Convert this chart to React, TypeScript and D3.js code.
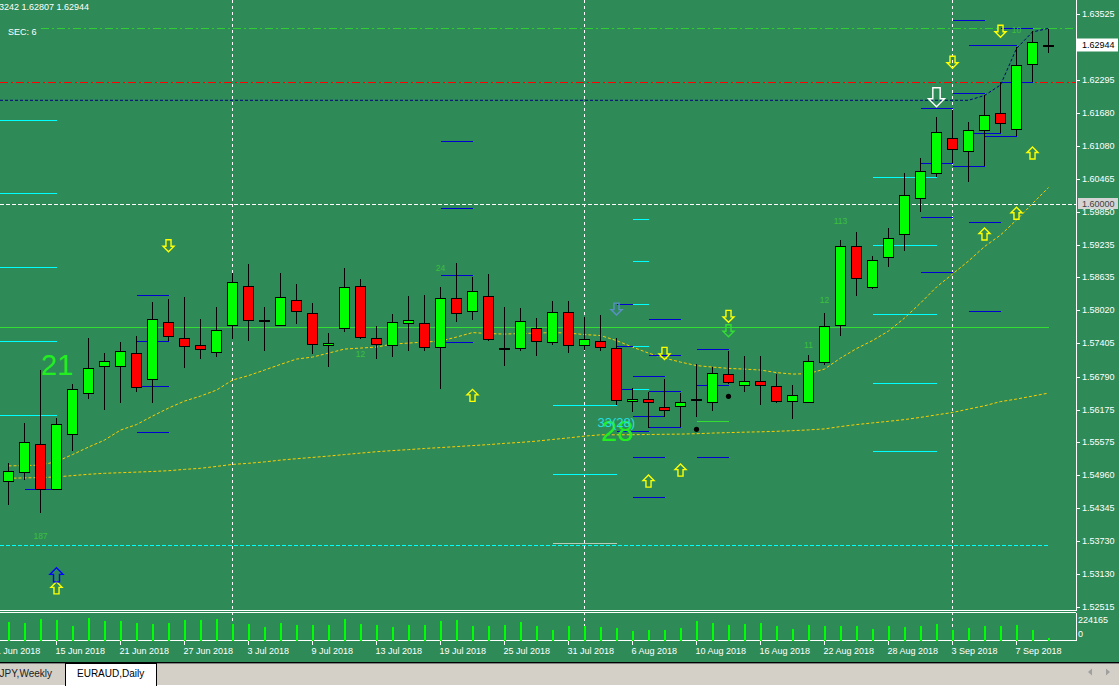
import React from "react";
import * as d3 from "d3";

// ---------- DATA ----------
const dates = [
  "2018-06-12","2018-06-13","2018-06-14","2018-06-15","2018-06-18","2018-06-19","2018-06-20","2018-06-21","2018-06-22",
  "2018-06-25","2018-06-26","2018-06-27","2018-06-28","2018-06-29",
  "2018-07-02","2018-07-03","2018-07-04","2018-07-05","2018-07-06","2018-07-09","2018-07-10","2018-07-11","2018-07-12","2018-07-13",
  "2018-07-16","2018-07-17","2018-07-18","2018-07-19","2018-07-20","2018-07-23","2018-07-24","2018-07-25","2018-07-26","2018-07-27",
  "2018-07-30","2018-07-31",
  "2018-08-01","2018-08-02","2018-08-03","2018-08-06","2018-08-07","2018-08-08","2018-08-09","2018-08-10","2018-08-13","2018-08-14",
  "2018-08-15","2018-08-16","2018-08-17","2018-08-20","2018-08-21","2018-08-22","2018-08-23","2018-08-24","2018-08-27","2018-08-28",
  "2018-08-29","2018-08-30","2018-08-31",
  "2018-09-03","2018-09-04","2018-09-05","2018-09-06","2018-09-07","2018-09-10","2018-09-11",
];

const open = [
  1.54854,1.55021,1.55530,1.54694,1.55716,1.56489,1.56979,1.56990,1.57221,1.56738,
  1.57797,1.57500,1.57370,1.57239,1.57741,1.58466,1.57821,1.57741,1.58206,1.57964,
  1.57370,1.57691,1.58466,1.57500,1.57370,1.57778,1.57778,1.57332,1.58243,1.58001,
  1.58280,1.57295,1.57314,1.57691,1.57425,1.57983,1.57370,1.57444,1.57314,1.56329,
  1.56366,1.56217,1.56236,1.56348,1.56310,1.56831,1.56626,1.56701,1.56608,1.56329,
  1.56310,1.57054,1.57741,1.59220,1.58447,1.59004,1.59432,1.60101,1.60565,1.61216,
  1.60974,1.61364,1.61680,1.61383,1.62590,1.62950,
];
const high = [
  1.55177,1.55920,1.56911,1.56013,1.56650,1.57500,1.57221,1.57431,1.57542,1.58174,
  1.58230,1.58267,1.57858,1.58081,1.58713,1.58880,1.58075,1.58713,1.58508,1.58155,
  1.57598,1.58806,1.58601,1.57722,1.57951,1.58285,1.58304,1.58453,1.58899,1.58638,
  1.58694,1.58081,1.58057,1.57871,1.58193,1.58193,1.57901,1.57932,1.57500,1.56571,
  1.56507,1.56738,1.56478,1.57016,1.56961,1.57258,1.57165,1.57165,1.56831,1.56626,
  1.57184,1.57964,1.59326,1.59469,1.59023,1.59543,1.60565,1.60844,1.61606,1.61741,
  1.61513,1.62014,1.62262,1.62906,1.63204,1.63242,
];
const low = [
  1.54402,1.54867,1.54259,1.54690,1.55406,1.56372,1.56167,1.56303,1.56507,1.56303,
  1.57455,1.56953,1.57115,1.57158,1.57481,1.57455,1.57269,1.57735,1.57771,1.57208,
  1.56972,1.57611,1.57486,1.57120,1.57158,1.57269,1.57269,1.56552,1.57808,1.57845,
  1.57444,1.56990,1.57269,1.57176,1.57381,1.57221,1.57288,1.57269,1.56260,1.56136,
  1.55827,1.56043,1.55851,1.56043,1.56154,1.56645,1.56496,1.56266,1.56305,1.56006,
  1.56305,1.56998,1.57548,1.58291,1.58421,1.58830,1.59127,1.59841,1.60502,1.60751,
  1.60409,1.60701,1.61308,1.61253,1.62256,1.62807,
];
const close = [
  1.55028,1.55567,1.54694,1.55902,1.56552,1.56942,1.57072,1.57258,1.56600,1.57853,
  1.57548,1.57362,1.57295,1.57648,1.58540,1.57834,1.57821,1.58261,1.58001,1.57388,
  1.57407,1.58447,1.57518,1.57388,1.57797,1.57834,1.57332,1.58243,1.57964,1.58373,
  1.57481,1.57295,1.57815,1.57444,1.57983,1.57370,1.57481,1.57332,1.56348,1.56366,
  1.56310,1.56162,1.56310,1.56348,1.56849,1.56682,1.56701,1.56626,1.56329,1.56440,
  1.57072,1.57722,1.59220,1.58614,1.58949,1.59358,1.60156,1.60602,1.61327,1.61011,
  1.61364,1.61643,1.61494,1.62572,1.62999,1.62944,
];
const volume = [
  152000,144000,178500,168000,120000,184000,160000,160000,144000,136000,
  144000,168000,168000,176000,136000,136000,112000,144000,128000,128000,
  128000,176000,136000,128000,112000,128000,128000,160000,168000,120000,
  120000,128000,152000,120000,88000,120000,120000,112000,104000,80000,
  88000,88000,104000,160000,144000,128000,136000,144000,120000,96000,
  128000,120000,120000,120000,96000,120000,112000,120000,136000,88000,
  104000,120000,120000,128000,88000,24000,
];
const volumeMax = 224165;

const maFast = [
  1.55131,1.55136,1.55145,1.55210,1.55341,1.55480,1.55610,1.55796,1.55898,1.56056,
  1.56204,1.56335,1.56427,1.56539,1.56725,1.56808,1.56911,1.57016,1.57115,1.57152,
  1.57226,1.57301,1.57319,1.57338,1.57394,1.57412,1.57431,1.57449,1.57524,1.57607,
  1.57589,1.57579,1.57589,1.57598,1.57607,1.57598,1.57570,1.57552,1.57459,1.57338,
  1.57226,1.57133,1.57059,1.56994,1.56966,1.56942,1.56929,1.56911,1.56864,1.56836,
  1.56845,1.56929,1.57133,1.57310,1.57459,1.57635,1.57877,1.58155,1.58453,1.58694,
  1.58936,1.59205,1.59419,1.59698,1.60004,1.60301,
];
const maSlow = [
  1.54900,1.54908,1.54913,1.54926,1.54950,1.54975,1.54993,1.55004,1.55015,1.55027,
  1.55041,1.55066,1.55086,1.55121,1.55158,1.55179,1.55205,1.55238,1.55264,1.55288,
  1.55313,1.55341,1.55368,1.55394,1.55415,1.55433,1.55454,1.55471,1.55489,1.55508,
  1.55526,1.55549,1.55567,1.55591,1.55621,1.55651,1.55684,1.55708,1.55708,1.55710,
  1.55714,1.55718,1.55721,1.55729,1.55740,1.55749,1.55757,1.55764,1.55773,1.55785,
  1.55799,1.55818,1.55861,1.55898,1.55929,1.55959,1.55991,1.56032,1.56078,1.56123,
  1.56186,1.56247,1.56325,1.56372,1.56427,1.56483,
];

// trailing stop line: flat level then per-candle values
const trailLevel = 1.61922;
const trailIdx = [60, 61, 62, 63, 64, 65];
const trailPrice = [1.61922, 1.62011, 1.62206, 1.62884, 1.63191, 1.63259];

const priceTicks = [
  "1.63525","1.62295","1.61680","1.61080","1.60465","1.59850","1.59235","1.58635","1.58020",
  "1.57405","1.56790","1.56175","1.55575","1.54960","1.54345","1.53730","1.53130","1.52515",
];
const dateTickIdx = [-1, 3, 7, 11, 15, 19, 23, 27, 31, 35, 39, 43, 47, 51, 55, 59, 63];
const dateTickLabels = [
  "11 Jun 2018","15 Jun 2018","21 Jun 2018","27 Jun 2018","3 Jul 2018","9 Jul 2018","13 Jul 2018",
  "19 Jul 2018","25 Jul 2018","31 Jul 2018","6 Aug 2018","10 Aug 2018","16 Aug 2018","22 Aug 2018",
  "28 Aug 2018","3 Sep 2018","7 Sep 2018",
];
const separatorIdx = [14, 36, 59];

// horizontal level lines
const levelPrice = [1.63259, 1.62256, 1.60000, 1.57705, 1.53655];
const levelFrom = [2, -1, -1, -1, -1];
const levelTo = [null, null, null, 65, 65];
const levelKind = ["greenDashDot", "redDashDot", "whiteDash", "greenSolid", "cyanDash"];

// short segments
const segFrom = [
  -1,-1,-1,-1,-1, 1, 8,8,8,8, 27,27,27,27, 34,34,34, 39,39,
  38,38,38, 39,39,39, 40,40,40,40, 39,39,39,39, 38, 43,43,43, 43,
  54,54,54,54,54, 57,57,57,57, 60,60,60, 59,59,59, 62,62, 60, 61,
];
const segTo = [
  3,3,3,3,3, 3.3, 10,10,10,10, 29,29,29,29, 38,38,38, 40,40,
  39,39,39, 40,40,40, 42,42,42,42, 41,41,41,41, 40, 45,45,45, 45,
  58,58,58,58,58, 59,59,59,59, 62,62,62, 61,61,61, 64,64, 63, 63,
];
const segPrice = [
  1.61550,1.60194,1.58819,1.57449,1.56069, 1.54694, 1.58298,1.57444,1.56608,1.55753,
  1.61160,1.59915,1.58670,1.57425, 1.56255,1.54973,1.53696, 1.59711,1.58930,
  1.58131,1.57351,1.56552, 1.58131,1.57351,1.56552, 1.57853,1.57184,1.56515,1.55851,
  1.56794,1.56050,1.55288,1.54545, 1.55772, 1.57295,1.56626,1.55288, 1.55957,
  1.60491,1.59227,1.57945,1.56663,1.55400, 1.61773,1.60751,1.59748,1.58726,
  1.61308,1.59655,1.58001, 1.63408,1.62052,1.60695, 1.63259,1.62256, 1.62943, 1.61253,
];
const segKind = [
  "cyan","cyan","cyan","cyan","cyan", "blue", "blue","blue","blue","blue",
  "blue","blue","blue","blue", "cyan","cyan","light", "cyan","cyan",
  "blue","blue","blue", "cyan","cyan","cyan", "blue","blue","blue","blue",
  "blue","blue","blue","blue", "blue", "blue","blue","blue", "green",
  "cyan","cyan","cyan","cyan","cyan", "blue","blue","blue","blue",
  "blue","blue","blue", "blue","blue","blue", "blue","blue", "blue", "blue",
];

// arrows
const arrowIdx = [10, 29, 3, 3, 38, 41, 40, 42, 45, 45, 59, 58, 62, 64, 63, 61];
const arrowPrice = [1.59109,1.56552,1.52977,1.53237,1.57932,1.57109,1.54960,1.55164,1.57797,1.57529,1.62516,1.61803,1.63092,1.61054,1.59934,1.59549];
const arrowDir = ["down","up","up","up","down","down","up","up","down","down","down","down","down","up","up","up"];
const arrowKind = ["yellow","yellow","yellow","blue","steel","yellow","yellow","yellow","yellow","green","yellow","white","yellow","yellow","yellow","yellow"];

// text labels
const labelIdx = [2, 37, 37, 2, 27, 22, 52, 51, 50, 63];
const labelPrice = [1.56818, 1.55597, 1.55857, 1.53765, 1.58756, 1.57147, 1.59618, 1.58150, 1.57325, 1.63166];
const labelText = ["21", "28", "33(28)", "187", "24", "12", "113", "12", "11", "10"];
const labelKind = ["big", "big", "cyan", "small", "small", "small", "small", "small", "small", "small"];

// dots
const dotIdx = [45, 43];
const dotPrice = [1.56422, 1.55809];

// ---------- STYLES ----------
const FONT = "'Liberation Sans', Arial, sans-serif";
const BG = "#2E8B57";
const SEG_COLOR: Record<string, string> = { blue: "#0000D0", cyan: "#00FFFF", green: "#33DD33", light: "#B8CCB8" };
const ARROW_STYLE: Record<string, { c: string; w: number; h: number }> = {
  yellow: { c: "#FFFF00", w: 11, h: 12 },
  green: { c: "#33DD33", w: 11, h: 12 },
  blue: { c: "#0000FF", w: 13, h: 14 },
  steel: { c: "#5A8FC8", w: 11, h: 12 },
  white: { c: "#FFFFFF", w: 16, h: 19 },
};
const LEVEL_STYLE: Record<string, { c: string; dash?: string }> = {
  greenDashDot: { c: "#32CD32", dash: "8,3,2,3" },
  redDashDot: { c: "#FF0000", dash: "8,3,2,3" },
  whiteDash: { c: "#FFFFFF", dash: "4,2" },
  greenSolid: { c: "#33DD33" },
  cyanDash: { c: "#00FFFF", dash: "4,2" },
};

function arrowPath(cx: number, tip: number, dir: string, w: number, h: number) {
  const hw = w / 2, hh = w / 2, sw = w * 0.23;
  const s = dir === "up" ? 1 : -1;
  const pts = [
    [cx, tip], [cx + hw, tip + s * hh], [cx + sw, tip + s * hh], [cx + sw, tip + s * h],
    [cx - sw, tip + s * h], [cx - sw, tip + s * hh], [cx - hw, tip + s * hh],
  ];
  return "M" + pts.map((p) => p.join(",")).join("L") + "Z";
}

export default function App() {
  const W = 1119, H = 686;
  const plotRight = 1076;
  const n = dates.length;
  const x = d3.scaleLinear().domain([0, n - 1]).range([8.5, 1048.5]);
  const y = d3.scaleLinear().domain([1.52515, 1.63525]).range([606.7, 14]);
  const yv = d3.scaleLinear().domain([0, volumeMax]).range([641, 613]);
  const py = (p: number) => Math.round(y(p)) + 0.5;

  const maLine = d3.line<number>().x((_, i) => x(i)).y((v) => y(v));
  const trailPts: [number, number][] = [[0, y(trailLevel)], ...trailIdx.map((t, k) => [x(t), y(trailPrice[k])] as [number, number])];
  const trailPath = d3.line()(trailPts);

  const white = "#FFFFFF";

  return (
    <svg width={W} height={H} style={{ position: "fixed", left: 0, top: 0, display: "block" }} fontFamily={FONT}>
      <defs>
        <clipPath id="mainClip"><rect x={0} y={0} width={plotRight} height={610} /></clipPath>
        <clipPath id="volClip"><rect x={0} y={613} width={plotRight} height={28} /></clipPath>
      </defs>
      <rect x={0} y={0} width={W} height={662} fill={BG} />

      {/* period separators */}
      {separatorIdx.map((s) => (
        <line key={"sep" + s} x1={x(s)} x2={x(s)} y1={0} y2={641} stroke={white} strokeDasharray="3,3" shapeRendering="crispEdges" />
      ))}

      <g clipPath="url(#mainClip)">
        {/* level lines */}
        {levelPrice.map((p, k) => {
          const st = LEVEL_STYLE[levelKind[k]];
          const x1 = levelFrom[k] < 0 ? 0 : x(levelFrom[k]);
          const x2 = levelTo[k] == null ? plotRight : x(levelTo[k] as number);
          return <line key={"lv" + k} x1={x1} x2={x2} y1={py(p)} y2={py(p)} stroke={st.c} strokeDasharray={st.dash} shapeRendering="crispEdges" />;
        })}

        {/* trailing line */}
        <path d={trailPath || ""} fill="none" stroke="#000080" strokeDasharray="3,2" strokeWidth={1} />

        {/* moving averages */}
        <path d={maLine(maSlow) || ""} fill="none" stroke="#FFCC00" strokeDasharray="3,2" strokeWidth={1} />
        <path d={maLine(maFast) || ""} fill="none" stroke="#FFCC00" strokeDasharray="3,2" strokeWidth={1} />

        {/* segments */}
        {segPrice.map((p, k) => (
          <line key={"sg" + k} x1={Math.max(0, x(segFrom[k]))} x2={x(segTo[k])} y1={py(p)} y2={py(p)}
            stroke={SEG_COLOR[segKind[k]]} strokeWidth={1} shapeRendering="crispEdges" />
        ))}

        {/* candles */}
        {dates.map((d, i) => {
          const cx = x(i);
          const o = open[i], c = close[i];
          const doji = Math.abs(o - c) < 0.00005;
          const top = Math.round(y(Math.max(o, c))) + 0.5;
          const bot = Math.round(y(Math.min(o, c))) + 0.5;
          return (
            <g key={d}>
              <line x1={cx} x2={cx} y1={Math.round(y(high[i]))} y2={Math.round(y(low[i]))} stroke="#000" shapeRendering="crispEdges" />
              {doji ? (
                <rect x={cx - 5.5} y={Math.round(y(c)) - 1} width={11} height={2} fill="#000" shapeRendering="crispEdges" />
              ) : (
                <rect x={cx - 5} y={top} width={10} height={Math.max(1, bot - top)} fill={c > o ? "#00FF00" : "#FF0000"}
                  stroke="#000" strokeWidth={1} shapeRendering="crispEdges" />
              )}
            </g>
          );
        })}

        {/* dots */}
        {dotIdx.map((d, k) => (
          <circle key={"dot" + k} cx={x(d)} cy={y(dotPrice[k])} r={2.6} fill="#000" />
        ))}

        {/* arrows */}
        {arrowIdx.map((a, k) => {
          const st = ARROW_STYLE[arrowKind[k]];
          return (
            <path key={"ar" + k} d={arrowPath(x(a), y(arrowPrice[k]), arrowDir[k], st.w, st.h)} fill="none"
              stroke={st.c} strokeWidth={1.4} strokeLinejoin="miter" />
          );
        })}

        {/* labels */}
        {labelText.map((t, k) => {
          const kind = labelKind[k];
          const lx = x(labelIdx[k]);
          const ly = y(labelPrice[k]);
          if (kind === "big")
            return <text key={"lb" + k} x={lx + 0.5} y={ly} fontSize={29} fill="#22EE22">{t}</text>;
          if (kind === "cyan")
            return <text key={"lb" + k} x={lx - 3} y={ly} fontSize={13} fill="#22E0E0">{t}</text>;
          return <text key={"lb" + k} x={lx} y={ly} fontSize={8.5} fill="#3CC03C" textAnchor="middle">{t}</text>;
        })}
      </g>

      {/* header texts */}
      <text x={-1} y={9.5} fontSize={9} fill={white}>3242 1.62807 1.62944</text>
      <text x={8} y={34.5} fontSize={9} fill={white}>SEC: 6</text>

      {/* frames */}
      <line x1={0} x2={plotRight} y1={610.5} y2={610.5} stroke={white} shapeRendering="crispEdges" />
      <line x1={0} x2={plotRight} y1={612.5} y2={612.5} stroke={white} shapeRendering="crispEdges" />
      <line x1={0} x2={plotRight} y1={640.5} y2={640.5} stroke={white} shapeRendering="crispEdges" />
      <line x1={plotRight + 0.5} x2={plotRight + 0.5} y1={0} y2={611} stroke={white} shapeRendering="crispEdges" />
      <line x1={plotRight + 0.5} x2={plotRight + 0.5} y1={613} y2={641} stroke={white} shapeRendering="crispEdges" />

      {/* volume */}
      <g clipPath="url(#volClip)">
        {volume.map((v, i) => (
          <rect key={"v" + i} x={x(i) - 0.5} y={yv(v)} width={2} height={yv(0) - yv(v)} fill="#00FF00" shapeRendering="crispEdges" />
        ))}
      </g>
      <text x={1078} y={620} fontSize={9} fill={white} dominantBaseline="central">{String(volumeMax)}</text>
      <text x={1078} y={634} fontSize={9} fill={white} dominantBaseline="central">0</text>

      {/* price axis */}
      {priceTicks.map((t) => (
        <g key={t}>
          <line x1={plotRight} x2={plotRight + 4} y1={py(+t)} y2={py(+t)} stroke={white} shapeRendering="crispEdges" />
          <text x={1082} y={y(+t)} fontSize={9} fill={white} dominantBaseline="central">{t}</text>
        </g>
      ))}
      <rect x={1078} y={py(1.6) - 6.5} width={40} height={11} fill="#D4D4D4" />
      <text x={1082} y={y(1.6)} fontSize={9} fill="#404040" dominantBaseline="central">1.60000</text>
      <rect x={1077} y={py(close[n - 1]) - 7} width={41} height={13} fill="#FFFFFF" />
      <text x={1082} y={y(close[n - 1])} fontSize={9} fill="#000" dominantBaseline="central">{close[n - 1].toFixed(5)}</text>

      {/* time axis */}
      {dateTickIdx.map((t, k) => (
        <g key={"dt" + k}>
          <line x1={x(t)} x2={x(t)} y1={641} y2={645} stroke={white} shapeRendering="crispEdges" />
          <text x={x(t) - 1} y={654} fontSize={9} fill={white}>{dateTickLabels[k]}</text>
        </g>
      ))}

      {/* tab bar */}
      <rect x={0} y={662} width={W} height={24} fill="#D4D0C8" />
      <line x1={0} x2={W} y1={662.5} y2={662.5} stroke="#000" shapeRendering="crispEdges" />
      <line x1={0} x2={W} y1={663.5} y2={663.5} stroke="#808080" shapeRendering="crispEdges" />
      <line x1={0} x2={W} y1={685.5} y2={685.5} stroke="#FFFFFF" shapeRendering="crispEdges" />
      <text x={52} y={677} fontSize={10} fill="#222" textAnchor="end">JPY,Weekly</text>
      <rect x={65.5} y={663.5} width={91} height={23} fill="#FFFFFF" stroke="#000" shapeRendering="crispEdges" />
      <text x={77} y={677} fontSize={10} fill="#000">EURAUD,Daily</text>
      <path d="M1088,672L1092,668.5L1092,675.5Z" fill="#A0A0A0" />
      <path d="M1110,672L1106,668.5L1106,675.5Z" fill="#A0A0A0" />
    </svg>
  );
}
